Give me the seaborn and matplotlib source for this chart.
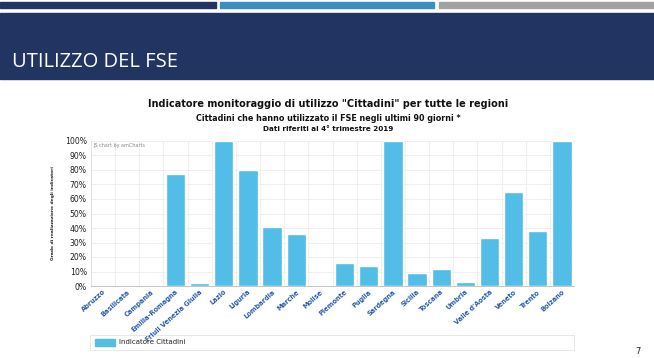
import matplotlib
matplotlib.use('Agg')
import matplotlib.pyplot as plt
import matplotlib.patches as mpatches
import matplotlib.ticker as mtick
import seaborn as sns
import pandas as pd

# Data
regioni = ['Abruzzo', 'Basilicata', 'Campania', 'Emilia-Romagna', 'Friuli Venezia Giulia',
           'Lazio', 'Liguria', 'Lombardia', 'Marche', 'Molise', 'Piemonte', 'Puglia',
           'Sardegna', 'Sicilia', 'Toscana', 'Umbria', "Valle d'Aosta", 'Veneto',
           'Trento', 'Bolzano']
valori = [0, 0, 0, 77, 2, 100, 80, 41, 36, 0, 16, 14, 100, 9, 12, 3, 33, 65, 38, 100]
y_ticks = [0, 10, 20, 30, 40, 50, 60, 70, 80, 90, 100]

data = pd.DataFrame({'Regione': regioni, 'Valore': valori})

sns.set_style('white')
plt.rcParams['font.family'] = ['DejaVu Sans']

W, H = 654, 358
fig = plt.figure(figsize=(W / 100, H / 100), dpi=100)

# Slide header
def fbox(x0, y0, x1, y1, color, z=-2):
    fig.patches.append(mpatches.Rectangle((x0 / W, 1 - y1 / H), (x1 - x0) / W, (y1 - y0) / H,
                                          transform=fig.transFigure, color=color, zorder=z))

fbox(0, 2, 216, 8, '#223462')
fbox(220, 2, 434, 8, '#3b8fc0')
fbox(439, 2, 654, 8, '#a2a2a2')
fbox(0, 13, 654, 79, '#223462')
fig.text(12 / W, 1 - 62 / H, 'UTILIZZO DEL FSE', color='white', fontsize=14.5,
         family='Open Sans', va='center', ha='left')

# Chart titles
cx = 328 / W
fig.text(cx, 1 - 104 / H, 'Indicatore monitoraggio di utilizzo "Cittadini" per tutte le regioni',
         ha='center', va='center', fontsize=7.0, fontweight='bold', color='#111111')
fig.text(cx, 1 - 118 / H, 'Cittadini che hanno utilizzato il FSE negli ultimi 90 giorni *',
         ha='center', va='center', fontsize=5.8, fontweight='bold', color='#111111')
fig.text(cx, 1 - 129 / H, 'Dati riferiti al 4\u00b0 trimestre 2019',
         ha='center', va='center', fontsize=5.2, fontweight='bold', color='#111111')

# Legend box (drawn beneath the axes so long tick labels stay visible)
fig.patches.append(mpatches.Rectangle((90 / W, 1 - 350 / H), (574 - 90) / W, 15 / H,
                                      transform=fig.transFigure, facecolor='white',
                                      edgecolor='#e4e4e4', linewidth=0.6, zorder=-2))
fbox(95, 339, 115, 346, '#52bde6', z=-1)
fig.text(119 / W, 1 - 342.5 / H, 'Indicatore Cittadini', fontsize=5, color='#222222',
         va='center', ha='left')

# Bar chart
ax = fig.add_axes([91 / W, 1 - 286 / H, (574 - 91) / W, (286 - 141) / H])
ax.patch.set_alpha(0)
sns.barplot(data=data, x='Regione', y='Valore', color='#52bde6', width=0.8,
            saturation=1, ax=ax, zorder=3)
ax.set_ylim(0, 100)
ax.set_xlim(-0.5, len(regioni) - 0.5)
ax.set_yticks(y_ticks)
ax.yaxis.set_major_formatter(mtick.FormatStrFormatter('%d%%'))
ax.tick_params(axis='y', labelsize=5.6, colors='#222222', length=0, pad=3)
ax.set_xticks(range(len(regioni)))
ax.set_xticklabels(regioni, rotation=42, ha='right', rotation_mode='anchor',
                   fontsize=4.8, fontweight='bold', color='#2a5daa')
ax.tick_params(axis='x', length=0, pad=2)
ax.set_xticks([i + 0.5 for i in range(len(regioni) - 1)], minor=True)
ax.tick_params(axis='x', which='minor', length=0)
ax.grid(axis='y', color='#ececec', linewidth=0.6, zorder=0)
ax.grid(axis='x', which='minor', color='#ececec', linewidth=0.6, zorder=0)
ax.grid(axis='x', which='major', visible=False)
ax.set_xlabel('')
ax.set_ylabel('Grado di realizzazione degli indicatori', fontsize=3.2, fontweight='bold',
              color='#222222', labelpad=7)
for side in ['top', 'right']:
    ax.spines[side].set_visible(False)
ax.spines['left'].set_color('#dddddd')
ax.spines['bottom'].set_color('#bbbbbb')
ax.spines['left'].set_linewidth(0.6)
ax.spines['bottom'].set_linewidth(0.6)
ax.text(0.005, 0.985, 'JS chart by amCharts', transform=ax.transAxes, fontsize=3.5,
        color='#888888', ha='left', va='top')

fig.text(638 / W, 1 - 352 / H, '7', fontsize=6, color='#222222', va='center', ha='center')

fig.savefig('out.png', dpi=100)
